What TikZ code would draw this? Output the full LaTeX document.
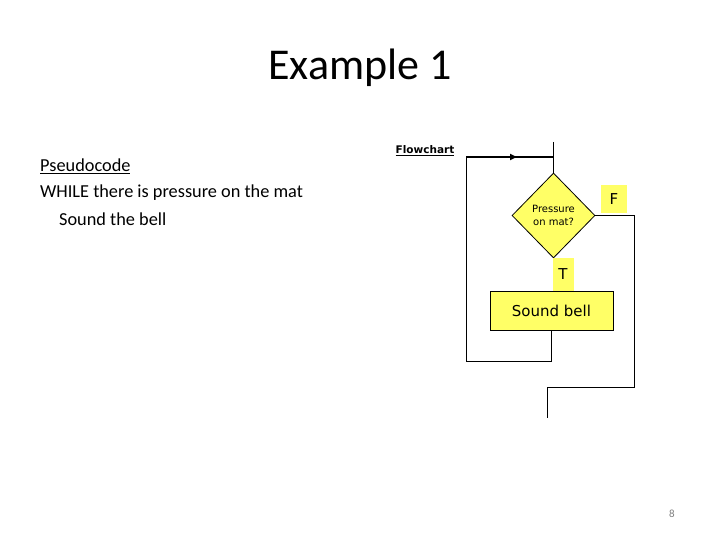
\documentclass[tikz,border=0pt]{standalone}
\usepackage{fontspec}
\setmainfont{Carlito}
\newfontfamily\flowfont{DejaVu Sans}
\usetikzlibrary{shapes.geometric,arrows.meta}
\definecolor{flowyellow}{HTML}{FFFF66}
\tikzset{
  conn/.style={draw=black,line width=1pt},
  decision/.style={diamond,draw=black,fill=flowyellow,line width=0.8pt,minimum width=83pt,minimum height=85pt,inner sep=0pt,align=center,font=\flowfont\fontsize{10}{13}\selectfont},
  process/.style={rectangle,draw=black,fill=flowyellow,line width=0.8pt,minimum width=123pt,minimum height=39pt,font=\flowfont\fontsize{15}{17}\selectfont},
  tflabel/.style={rectangle,fill=flowyellow,inner sep=0pt,font=\flowfont\fontsize{15}{17}\selectfont}
}
\begin{document}
\begin{tikzpicture}[x=1pt,y=-1pt]
\useasboundingbox (0,0) rectangle (720,540);
\node (title) at (360,68) {\fontsize{44}{50}\selectfont Example 1};
\node[anchor=west,inner sep=0pt] (pc) at (40,166) {\fontsize{18.3}{22}\selectfont\underline{Pseudocode}};
\node[anchor=west,inner sep=0pt] (wh) at (40,193) {\fontsize{18.3}{22}\selectfont WHILE there is pressure on the mat};
\node[anchor=west,inner sep=0pt] (sb) at (59,219) {\fontsize{18.3}{22}\selectfont Sound the bell};
\node[inner sep=0pt] (fc) at (425,151) {\flowfont\bfseries\fontsize{10.5}{13}\selectfont\underline{Flowchart}};
\node[decision] (dec) at (553.5,215.5) {Pressure\\on mat?};
\node[process] (bell) at (551.5,310.5) {Sound bell};
\coordinate (top) at (553.5,142);
\coordinate (lt) at (466,157);
\coordinate (lb) at (466,361);
\coordinate (rb) at (634,387);
\coordinate (ex) at (547,418);
\draw[conn] (top) -- (dec.north);
\draw[conn] (dec.south) -- (dec.south |- bell.north);
\draw[conn] (bell.south) -- (bell.south |- lb) -- (lb) -- (lt);
\draw[line width=2pt] (lt) -- (dec.north |- lt);
\draw[line width=2pt,-{Triangle[length=7pt,width=6pt]}] (lt) -- (517,157);
\draw[conn] (dec.east) -- (dec.east -| rb) -- (rb) -- (ex |- rb) -- (ex);
\node[tflabel,minimum width=26pt,minimum height=28pt] (F) at (614,199) {F};
\node[tflabel,minimum width=21pt,minimum height=33pt] (T) at (563,274.5) {T};
\node (pg) at (672,514) {\color{gray}\fontsize{11}{13}\selectfont 8};
\end{tikzpicture}
\end{document}
